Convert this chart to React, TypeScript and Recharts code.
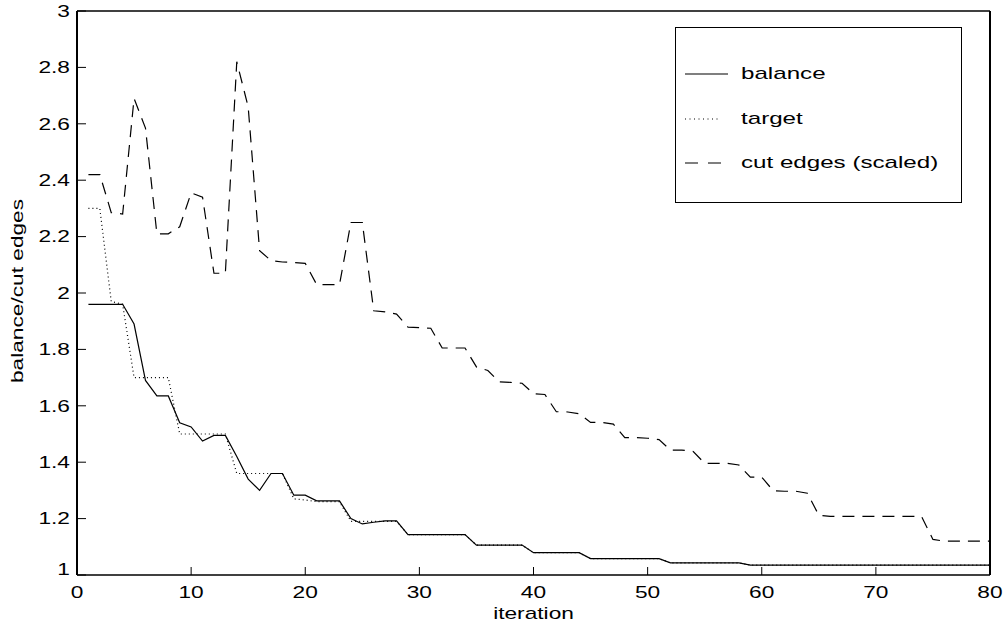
import React from 'react';
import { LineChart, Line, XAxis, YAxis, Legend } from 'recharts';

// iteration index (x)
const iterations = [
  1, 2, 3, 4, 5, 6, 7, 8, 9, 10, 11, 12, 13, 14, 15, 16, 17, 18, 19, 20,
  21, 22, 23, 24, 25, 26, 27, 28, 29, 30, 31, 32, 33, 34, 35, 36, 37, 38, 39, 40,
  41, 42, 43, 44, 45, 46, 47, 48, 49, 50, 51, 52, 53, 54, 55, 56, 57, 58, 59, 60,
  61, 62, 63, 64, 65, 66, 67, 68, 69, 70, 71, 72, 73, 74, 75, 76, 77, 78, 79, 80,
];

const balance = [
  1.96, 1.96, 1.96, 1.96, 1.89, 1.69, 1.635, 1.635, 1.54, 1.525,
  1.475, 1.495, 1.495, 1.42, 1.34, 1.3, 1.36, 1.36, 1.283, 1.283,
  1.263, 1.263, 1.263, 1.2, 1.181, 1.187, 1.192, 1.192, 1.143, 1.143,
  1.143, 1.143, 1.143, 1.143, 1.106, 1.106, 1.106, 1.106, 1.106, 1.079,
  1.079, 1.079, 1.079, 1.079, 1.058, 1.058, 1.058, 1.058, 1.058, 1.058,
  1.058, 1.043, 1.043, 1.043, 1.043, 1.043, 1.043, 1.043, 1.035, 1.035,
  1.035, 1.035, 1.035, 1.035, 1.035, 1.035, 1.035, 1.035, 1.035, 1.035,
  1.035, 1.035, 1.035, 1.035, 1.035, 1.035, 1.035, 1.035, 1.035, 1.035,
];

const target = [
  2.3, 2.3, 1.97, 1.96, 1.7, 1.7, 1.7, 1.7, 1.5, 1.5,
  1.5, 1.5, 1.5, 1.36, 1.36, 1.36, 1.36, 1.36, 1.27, 1.266,
  1.26, 1.26, 1.26, 1.19, 1.19, 1.19, 1.19, 1.19, 1.143, 1.143,
  1.143, 1.143, 1.143, 1.143, 1.106, 1.106, 1.106, 1.106, 1.106, 1.079,
  1.079, 1.079, 1.079, 1.079, 1.058, 1.058, 1.058, 1.058, 1.058, 1.058,
  1.058, 1.043, 1.043, 1.043, 1.043, 1.043, 1.043, 1.043, 1.035, 1.035,
  1.035, 1.035, 1.035, 1.035, 1.035, 1.035, 1.035, 1.035, 1.035, 1.035,
  1.035, 1.035, 1.035, 1.035, 1.035, 1.035, 1.035, 1.035, 1.035, 1.035,
];

const cutEdges = [
  2.42, 2.42, 2.285, 2.28, 2.69, 2.585, 2.21, 2.21, 2.235, 2.355,
  2.34, 2.07, 2.07, 2.82, 2.66, 2.15, 2.115, 2.11, 2.108, 2.105,
  2.03, 2.03, 2.03, 2.25, 2.25, 1.937, 1.933, 1.925, 1.879, 1.877,
  1.875, 1.805, 1.805, 1.805, 1.738, 1.725, 1.685, 1.683, 1.68, 1.643,
  1.64, 1.579, 1.578, 1.572, 1.541, 1.541, 1.535, 1.487, 1.487, 1.485,
  1.48, 1.443, 1.443, 1.438, 1.396, 1.396, 1.396, 1.39, 1.347, 1.347,
  1.299, 1.297, 1.297, 1.29, 1.212, 1.208, 1.208, 1.208, 1.208, 1.208,
  1.208, 1.208, 1.208, 1.208, 1.126, 1.12, 1.12, 1.12, 1.12, 1.12,
];

const xTicks = [0, 10, 20, 30, 40, 50, 60, 70, 80];
const yTicks = [1, 1.2, 1.4, 1.6, 1.8, 2, 2.2, 2.4, 2.6, 2.8, 3];

const data = iterations.map((it, i) => ({
  iteration: it,
  balance: balance[i],
  target: target[i],
  cut: cutEdges[i],
}));

const series = [
  { key: 'balance', name: 'balance', dash: undefined, legendDash: undefined, legendLen: 43 },
  { key: 'target', name: 'target', dash: '1 3', legendDash: '1 3.5', legendLen: 33 },
  { key: 'cut', name: 'cut edges (scaled)', dash: '12 8', legendDash: '13 10', legendLen: 36 },
];

const FONT = '"Liberation Sans", Arial, Helvetica, sans-serif';
const SX = 1.42; // the original text is stretched horizontally

function YTick({ x, y, payload }: any) {
  const shift = payload.value === 1 ? -6 : 0;
  return (
    <text
      transform={`translate(${x},${y + shift}) scale(${SX},1)`}
      textAnchor="end"
      dy="0.36em"
      fontSize={16}
      fontFamily={FONT}
      fill="#000"
    >
      {payload.value}
    </text>
  );
}

function XTick({ x, y, payload }: any) {
  return (
    <text
      transform={`translate(${x},${y + 23}) scale(${SX},1)`}
      textAnchor="middle"
      fontSize={16}
      fontFamily={FONT}
      fill="#000"
    >
      {payload.value}
    </text>
  );
}

function XTitle({ viewBox }: any) {
  const cx = viewBox.x + viewBox.width / 2;
  return (
    <text
      transform={`translate(${cx},${viewBox.y + 44}) scale(${SX},1)`}
      textAnchor="middle"
      fontSize={16}
      fontFamily={FONT}
      fill="#000"
    >
      iteration
    </text>
  );
}

function YTitle({ viewBox }: any) {
  const cy = viewBox.y + viewBox.height / 2 - 2;
  return (
    <text
      transform={`translate(23,${cy}) rotate(-90) scale(${SX},1)`}
      textAnchor="middle"
      fontSize={16}
      fontFamily={FONT}
      fill="#000"
    >
      balance/cut edges
    </text>
  );
}

function LegendBox() {
  return (
    <div
      style={{
        width: 287,
        height: 176,
        border: '1.5px solid #000',
        boxSizing: 'border-box',
        background: '#fff',
        position: 'relative',
        fontFamily: FONT,
      }}
    >
      {series.map((s, i) => (
        <div
          key={s.key}
          style={{
            position: 'absolute',
            left: 0,
            top: 34 + i * 44.5,
            height: 24,
            display: 'flex',
            alignItems: 'center',
          }}
        >
          <svg width={65} height={24}>
            <line
              x1={9}
              x2={9 + s.legendLen}
              y1={12}
              y2={12}
              stroke="#000"
              strokeWidth={1.2}
              strokeDasharray={s.legendDash}
            />
          </svg>
          <span
            style={{
              fontSize: 17,
              display: 'inline-block',
              transform: `scaleX(${SX})`,
              transformOrigin: 'left center',
              whiteSpace: 'nowrap',
              color: '#000',
            }}
          >
            {s.name}
          </span>
        </div>
      ))}
    </div>
  );
}

export default function App() {
  return (
    <div style={{ position: 'absolute', left: 0, top: 0, width: 1004, height: 625, background: '#fff' }}>
      <LineChart width={1004} height={625} data={data} margin={{ top: 10, right: 13, left: 0, bottom: 0 }}>
        <XAxis
          dataKey="iteration"
          type="number"
          domain={[0, 80]}
          ticks={xTicks}
          interval={0}
          allowDataOverflow
          height={50}
          tickSize={-8}
          tickMargin={8}
          tick={<XTick />}
          axisLine={{ stroke: '#000', strokeWidth: 1.3 }}
          tickLine={{ stroke: '#000', strokeWidth: 1 }}
          label={{ content: XTitle }}
        />
        <XAxis
          xAxisId="top"
          orientation="top"
          type="number"
          domain={[0, 80]}
          ticks={xTicks}
          interval={0}
          allowDataOverflow
          height={1}
          tickSize={-8}
          tick={false}
          axisLine={{ stroke: '#000', strokeWidth: 1.3 }}
          tickLine={{ stroke: '#000', strokeWidth: 1 }}
        />
        <YAxis
          type="number"
          domain={[1, 3]}
          ticks={yTicks}
          interval={0}
          allowDataOverflow
          width={77}
          tickSize={-9}
          tickMargin={16}
          tick={<YTick />}
          axisLine={{ stroke: '#000', strokeWidth: 2 }}
          tickLine={{ stroke: '#000', strokeWidth: 1 }}
          label={{ content: YTitle }}
        />
        <YAxis
          yAxisId="right"
          orientation="right"
          type="number"
          domain={[1, 3]}
          ticks={yTicks}
          interval={0}
          allowDataOverflow
          width={1}
          tickSize={-9}
          tick={false}
          axisLine={{ stroke: '#000', strokeWidth: 2 }}
          tickLine={{ stroke: '#000', strokeWidth: 1 }}
        />
        <Legend
          layout="horizontal"
          verticalAlign="middle"
          align="center"
          content={<LegendBox />}
          wrapperStyle={{ left: 675, top: 27, width: 287, height: 176 }}
        />
        {series.map((s) => (
          <Line
            key={s.key}
            type="linear"
            dataKey={s.key}
            name={s.name}
            stroke="#000"
            strokeWidth={1.2}
            strokeDasharray={s.dash}
            dot={false}
            activeDot={false}
            isAnimationActive={false}
          />
        ))}
      </LineChart>
    </div>
  );
}
